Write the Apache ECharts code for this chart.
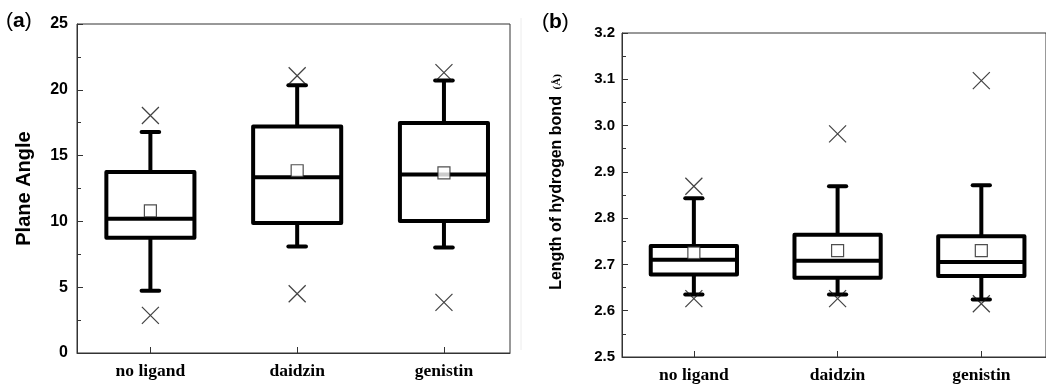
<!DOCTYPE html>
<html>
<head>
<meta charset="utf-8">
<script src="https://cdn.jsdelivr.net/npm/echarts@6/dist/echarts.min.js"></script>
<style>
html,body{margin:0;padding:0;background:#fff;}
#main{width:1046px;height:385px;}
</style>
</head>
<body>
<div id="main"></div>
<script>
var categories = ['no ligand', 'daidzin', 'genistin'];
var positions = [1, 2, 3];

// (a) plane angle
var angleLow = [4.73, 8.1, 8.02];
var angleQ1 = [8.76, 9.88, 10.03];
var angleMedian = [10.2, 13.35, 13.57];
var angleQ3 = [13.75, 17.22, 17.48];
var angleHigh = [16.8, 20.34, 20.7];
var angleMean = [10.8, 13.85, 13.68];
var angleOutliers = [[1, 18.05], [1, 2.86], [2, 21.07], [2, 4.5], [3, 21.3], [3, 3.85]];

// (b) length of hydrogen bond
var bondLow = [2.635, 2.635, 2.624];
var bondQ1 = [2.678, 2.671, 2.675];
var bondMedian = [2.710, 2.708, 2.705];
var bondQ3 = [2.740, 2.764, 2.761];
var bondHigh = [2.843, 2.869, 2.871];
var bondMean = [2.725, 2.730, 2.730];
var bondOutliers = [[1, 2.869], [1, 2.626], [2, 2.982], [2, 2.626], [3, 3.097], [3, 2.615]];

function boxData(low, q1, med, q3, high){
	var arr = [];
	for(var i = 0; i < positions.length; i++){
		arr.push([positions[i], low[i], q1[i], med[i], q3[i], high[i]]);
	}
	return arr;
}
function meanData(mean){
	var arr = [];
	for(var i = 0; i < positions.length; i++){
		arr.push([positions[i], mean[i]]);
	}
	return arr;
}

function renderBox(params, api){
	var x = api.value(0);
	var pLow = api.coord([x, api.value(1)]);
	var pQ1 = api.coord([x, api.value(2)]);
	var pMed = api.coord([x, api.value(3)]);
	var pQ3 = api.coord([x, api.value(4)]);
	var pHigh = api.coord([x, api.value(5)]);
	var half = api.size([0.6, 0])[0] / 2;
	var cap = api.size([0.12, 0])[0] / 2;
	var cx = pMed[0];
	var st = {stroke: '#000', lineWidth: 4, fill: null, lineCap: 'round'};
	return {
		type: 'group',
		children: [
			{type: 'line', shape: {x1: cx, y1: pQ3[1], x2: cx, y2: pHigh[1]}, style: {stroke: '#000', lineWidth: 4}},
			{type: 'line', shape: {x1: cx, y1: pQ1[1], x2: cx, y2: pLow[1]}, style: {stroke: '#000', lineWidth: 4}},
			{type: 'line', shape: {x1: cx - cap, y1: pHigh[1], x2: cx + cap, y2: pHigh[1]}, style: st},
			{type: 'line', shape: {x1: cx - cap, y1: pLow[1], x2: cx + cap, y2: pLow[1]}, style: st},
			{type: 'rect', shape: {x: cx - half, y: pQ3[1], width: half * 2, height: pQ1[1] - pQ3[1]},
				style: {stroke: '#000', lineWidth: 4, fill: '#fff', lineJoin: 'round'}},
			{type: 'line', shape: {x1: cx - half, y1: pMed[1], x2: cx + half, y2: pMed[1]}, style: {stroke: '#000', lineWidth: 4}}
		]
	};
}

var xLabel = function(v){
	return categories[Math.round(v) - 1] || '';
};

var myChart = echarts.init(document.getElementById('main'));
var xStyle = {color: '#000', fontFamily: '"Liberation Serif","Times New Roman",serif', fontWeight: 'bold', fontSize: 17.5};
var sans = '"Liberation Sans",Arial,sans-serif';

function makeX(gridIndex){
	return {
		type: 'value', gridIndex: gridIndex, min: 0.5, max: 3.45,
		axisLine: {onZero: false, lineStyle: {color: '#333', width: 1}},
		axisTick: {inside: true, length: 6, customValues: positions, lineStyle: {color: '#333'}},
		axisLabel: Object.assign({customValues: positions, formatter: xLabel, margin: 9}, xStyle),
		splitLine: {show: false}
	};
}

var option = {
	animation: false,
	grid: [
		{left: 77, top: 24, width: 433, height: 329, show: true, borderColor: '#333', borderWidth: 1},
		{left: 622, top: 33, width: 430, height: 324, show: true, borderColor: '#333', borderWidth: 1}
	],
	xAxis: [makeX(0), makeX(1)],
	yAxis: [
		{
			type: 'value', gridIndex: 0, min: 0, max: 25, interval: 5,
			name: 'Plane Angle', nameLocation: 'middle', nameGap: 43, nameRotate: 90,
			nameTextStyle: {fontFamily: sans, fontWeight: 'bold', fontSize: 20, color: '#000'},
			axisLine: {show: true, lineStyle: {color: '#333', width: 1}},
			axisTick: {inside: true, length: 6, lineStyle: {color: '#333'}},
			minorTick: {show: true, splitNumber: 2, length: 4, lineStyle: {color: '#333'}},
			axisLabel: {fontFamily: sans, fontWeight: 'bold', fontSize: 16, color: '#000', margin: 9},
			splitLine: {show: false}
		},
		{
			type: 'value', gridIndex: 1, min: 2.5, max: 3.2, interval: 0.1,
			name: '{a|Length of hydrogen bond}  {b|(Å)}', nameLocation: 'middle', nameGap: 57, nameRotate: 90,
			nameTextStyle: {
				padding: [0, 0, 0, 26],
				rich: {
					a: {fontFamily: sans, fontWeight: 'bold', fontSize: 16, color: '#000'},
					b: {fontFamily: '"Liberation Serif","Times New Roman",serif', fontWeight: 'bold', fontSize: 11, color: '#000'}
				}
			},
			axisLine: {show: true, lineStyle: {color: '#333', width: 1}},
			axisTick: {inside: true, length: 6, lineStyle: {color: '#333'}},
			minorTick: {show: true, splitNumber: 2, length: 4, lineStyle: {color: '#333'}},
			axisLabel: {fontFamily: sans, fontWeight: 'bold', fontSize: 15, color: '#000', margin: 7,
				formatter: function(v){ return v.toFixed(1); }},
			splitLine: {show: false}
		}
	],
	graphic: [
		{type: 'text', left: 6, top: 11, style: {text: '{p|(}{l|a}{p|)}', rich: {
			p: {fontFamily: sans, fontSize: 21, fill: '#000'},
			l: {fontFamily: sans, fontWeight: 'bold', fontSize: 21, fill: '#000'}}}},
		{type: 'text', left: 542, top: 12, style: {text: '{p|(}{l|b}{p|)}', rich: {
			p: {fontFamily: sans, fontSize: 21, fill: '#000'},
			l: {fontFamily: sans, fontWeight: 'bold', fontSize: 21, fill: '#000'}}}},
		{type: 'line', shape: {x1: 521, y1: 18, x2: 521, y2: 350}, style: {stroke: '#ececec', lineWidth: 1}}
	],
	series: [
		{type: 'custom', xAxisIndex: 0, yAxisIndex: 0, renderItem: renderBox,
			encode: {x: 0, y: [1, 2, 3, 4, 5]}, data: boxData(angleLow, angleQ1, angleMedian, angleQ3, angleHigh), z: 2},
		{type: 'scatter', xAxisIndex: 0, yAxisIndex: 0, data: meanData(angleMean), symbol: 'rect', symbolSize: 12,
			itemStyle: {color: '#fff', borderColor: '#222', borderWidth: 1.2}, z: 3},
		{type: 'scatter', xAxisIndex: 0, yAxisIndex: 0, data: angleOutliers, symbol: 'path://M0,0L10,10M10,0L0,10', symbolSize: 17,
			itemStyle: {color: 'none', borderColor: '#111', borderWidth: 1.2}, z: 4},
		{type: 'custom', xAxisIndex: 1, yAxisIndex: 1, renderItem: renderBox,
			encode: {x: 0, y: [1, 2, 3, 4, 5]}, data: boxData(bondLow, bondQ1, bondMedian, bondQ3, bondHigh), z: 2},
		{type: 'scatter', xAxisIndex: 1, yAxisIndex: 1, data: meanData(bondMean), symbol: 'rect', symbolSize: 12,
			itemStyle: {color: '#fff', borderColor: '#222', borderWidth: 1.2}, z: 3},
		{type: 'scatter', xAxisIndex: 1, yAxisIndex: 1, data: bondOutliers, symbol: 'path://M0,0L10,10M10,0L0,10', symbolSize: 17,
			itemStyle: {color: 'none', borderColor: '#111', borderWidth: 1.2}, z: 4}
	]
};
myChart.setOption(option);
</script>
</body>
</html>
